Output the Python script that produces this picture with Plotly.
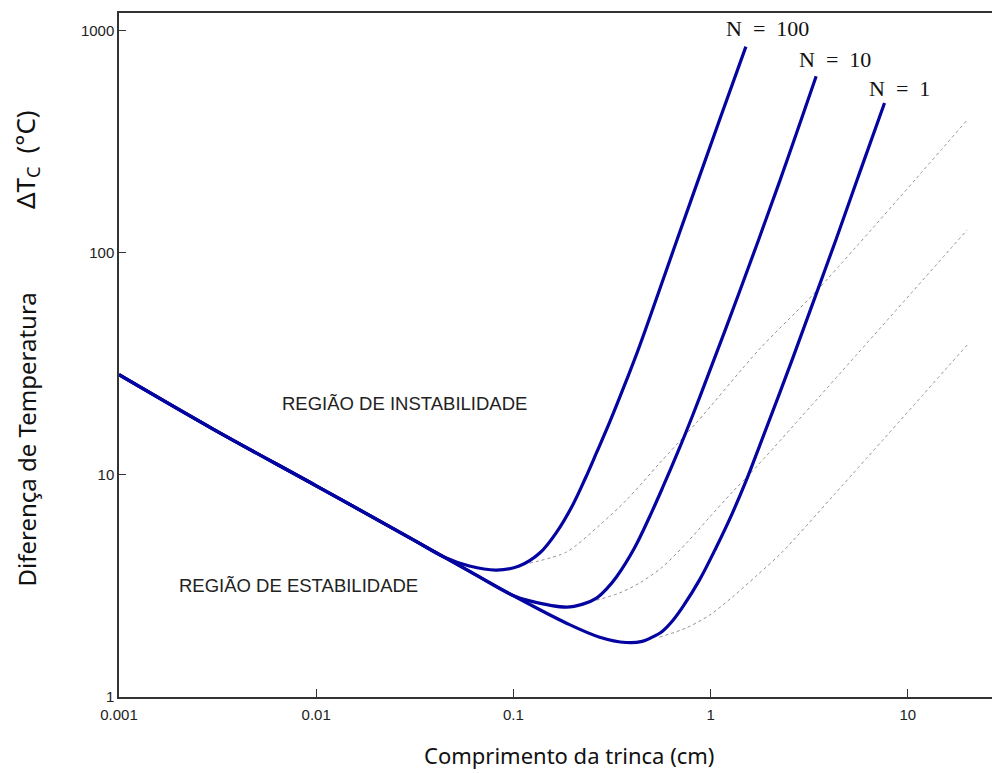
import plotly.graph_objects as go

# Critical temperature difference vs crack length, for N = 1, 10, 100 cracks
n1_x = [0.001, 0.003, 0.01, 0.03, 0.06, 0.1, 0.186, 0.274, 0.373, 0.45, 0.5, 0.57, 0.64,
        0.721, 0.879, 1.07, 1.29, 1.52, 1.77, 2.61, 3.43, 4.34, 5.69, 7.62]
n1_y = [28.3, 16.1, 8.94, 5.2, 3.68, 2.86, 2.15, 1.86, 1.76, 1.78, 1.85, 1.98, 2.2,
        2.54, 3.37, 4.74, 6.74, 9.5, 13.5, 33.6, 65.3, 116, 229, 474]

n10_x = [0.001, 0.003, 0.01, 0.03, 0.06, 0.1, 0.121, 0.186, 0.225, 0.264, 0.3, 0.333, 0.411,
         0.49, 0.57, 0.695, 0.782, 0.879, 1.40, 2.23, 3.43]
n10_y = [28.3, 16.1, 8.94, 5.2, 3.68, 2.86, 2.71, 2.54, 2.62, 2.79, 3.10, 3.47, 4.69,
         6.47, 8.74, 13.2, 17.1, 22.3, 66.7, 208, 625]

n100_x = [0.001, 0.003, 0.01, 0.03, 0.045, 0.0598, 0.082, 0.107, 0.136, 0.166, 0.2, 0.232,
          0.264, 0.307, 0.375, 0.436, 0.695, 1.11, 1.51]
n100_y = [28.3, 16.1, 8.94, 5.2, 4.25, 3.89, 3.73, 3.89, 4.45, 5.54, 7.33, 9.69,
          12.6, 17.2, 26.8, 38, 123, 397, 850]

# Dashed continuations branching off each curve
d100_x = [0.121, 0.186, 0.274, 0.375, 0.551, 0.848, 1.77, 3.44, 20]
d100_y = [4.01, 4.50, 5.95, 7.72, 11.3, 17.2, 36.9, 67.4, 397]

d10_x = [0.264, 0.345, 0.436, 0.57, 0.755, 0.99, 1.29, 1.71, 20]
d10_y = [2.73, 2.94, 3.26, 3.85, 4.94, 6.47, 8.38, 10.9, 127]

d1_x = [0.551, 0.755, 0.99, 1.29, 1.73, 2.31, 4.15, 20]
d1_y = [1.86, 2.05, 2.34, 2.82, 3.55, 4.5, 8.0, 38.5]

x_ticks = [0.001, 0.01, 0.1, 1, 10]
x_tick_text = ["0.001", "0.01", "0.1", "1", "10"]
y_ticks = [1, 10, 100, 1000]
y_tick_text = ["1", "10", "100", "1000"]

BLUE = "#0404a0"
DASH = "#938e95"

fig = go.Figure()

for xs, ys in [(d100_x, d100_y), (d10_x, d10_y), (d1_x, d1_y)]:
    fig.add_trace(go.Scatter(x=xs, y=ys, mode="lines", hoverinfo="skip",
                             line=dict(color=DASH, width=1, dash="3px,3px", shape="spline", smoothing=0.8)))

for xs, ys in [(n1_x, n1_y), (n10_x, n10_y), (n100_x, n100_y)]:
    fig.add_trace(go.Scatter(x=xs, y=ys, mode="lines",
                             line=dict(color=BLUE, width=3.2, shape="spline", smoothing=1.0)))

tick_font = dict(family="Liberation Sans, Arial, sans-serif", size=15, color="#222")
axis_common = dict(type="log", showgrid=False, zeroline=False, showline=True,
                   linecolor="#333", linewidth=1.5, ticks="inside", tickcolor="#333",
                   tickwidth=1, tickfont=tick_font)

fig.update_layout(
    width=992, height=773,
    margin=dict(l=119, r=0, t=13, b=76),
    paper_bgcolor="white", plot_bgcolor="white",
    showlegend=False,
    xaxis=dict(axis_common, range=[-3, 1.427], tickvals=x_ticks, ticktext=x_tick_text,
               ticklen=8, mirror=True, ticklabelstandoff=3),
    yaxis=dict(axis_common, range=[0, 3.081], tickvals=y_ticks, ticktext=y_tick_text,
               ticklen=7),
)

serif = dict(family="Liberation Serif, Times New Roman, serif", size=22, color="#111")
label_font = dict(family="Liberation Sans, Arial, sans-serif", size=18.5, color="#222")
title_font = dict(family="Noto Sans, Open Sans, sans-serif", size=22, color="#111")
ytitle_font = dict(family="Noto Sans, Open Sans, sans-serif", size=24, color="#111")
ysym_font = dict(family="Noto Sans, Open Sans, sans-serif", size=26, color="#111")

notes = [
    dict(text="N\u2002=\u2002100", x=0.7423, y=0.978, font=serif),
    dict(text="N\u2002=\u200210", x=0.8207, y=0.9313, font=serif),
    dict(text="N\u2002=\u20021", x=0.8935, y=0.8896, font=serif),
    dict(text="REGIÃO DE INSTABILIDADE", x=0.3276, y=0.4298, font=label_font),
    dict(text="REGIÃO DE ESTABILIDADE", x=0.2056, y=0.1623, font=label_font),
    dict(text="Comprimento da trinca (cm)", x=0.5155, y=-0.0848, font=title_font),
    dict(text="Diferença de Temperatura", x=-0.1065, y=0.3765,
         font=ytitle_font, textangle=-90),
    dict(text="ΔT<sub>C</sub>\u2002(°C)", x=-0.1065, y=0.785,
         font=ysym_font, textangle=-90),
]
for n in notes:
    fig.add_annotation(xref="paper", yref="paper", showarrow=False,
                       xanchor="center", yanchor="middle", **n)

fig.write_html("out.html")
